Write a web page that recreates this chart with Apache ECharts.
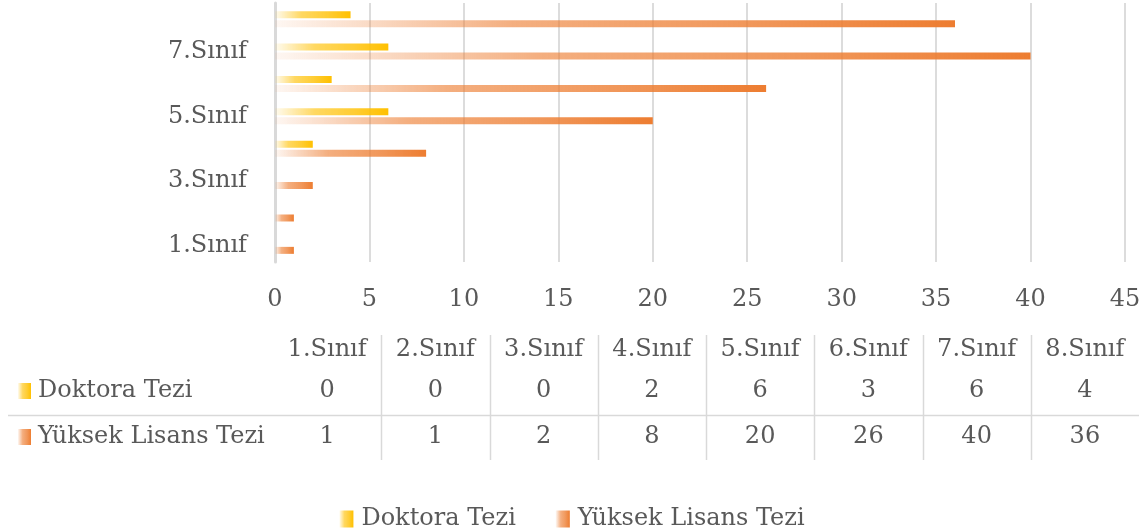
<!DOCTYPE html>
<html>
<head>
<meta charset="utf-8">
<script src="https://cdn.jsdelivr.net/npm/echarts@6/dist/echarts.min.js"></script>
<style>
  html, body { margin: 0; padding: 0; background: #fff; }
  #chart { width: 1144px; height: 532px; }
</style>
</head>
<body>
<div id="chart"></div>
<script>
const categories = ['1.Sınıf', '2.Sınıf', '3.Sınıf', '4.Sınıf', '5.Sınıf', '6.Sınıf', '7.Sınıf', '8.Sınıf']
const doktora = [0, 0, 0, 2, 6, 3, 6, 4]
const yuksekLisans = [1, 1, 2, 8, 20, 26, 40, 36]
const seriesNames = ['Doktora Tezi', 'Yüksek Lisans Tezi']

const FONT = 'DejaVu Serif'
const FS = 24
const TXT = '#595959'
const LINE = '#d9d9d9'

// office-like fade: pale on the left, full colour on the right
function fade (rgb) {
  return new echarts.graphic.LinearGradient(0, 0, 1, 0, [
    { offset: 0, color: `rgba(${rgb},0.06)` },
    { offset: 0.35, color: `rgba(${rgb},0.62)` },
    { offset: 0.7, color: `rgba(${rgb},0.8)` },
    { offset: 1, color: `rgba(${rgb},1)` }
  ])
}
const yellow = '255,192,0'
const orange = '237,125,49'

const chart = echarts.init(document.getElementById('chart'))

// table geometry (data table under the plot)
const tableLeft = 273
const tableRight = 1139
const colW = (tableRight - tableLeft) / categories.length

const graphic = []
for (let i = 1; i < categories.length; i++) {
  const x = Math.round(tableLeft + i * colW) + 0.5
  graphic.push({ type: 'line', shape: { x1: x, y1: 335, x2: x, y2: 460 }, style: { stroke: LINE, lineWidth: 1.5 } })
}
graphic.push({ type: 'line', shape: { x1: 8, y1: 415.5, x2: tableRight, y2: 415.5 }, style: { stroke: LINE, lineWidth: 1.5 } })
const rowY = [391, 437]
const rowFill = [yellow, orange]
seriesNames.forEach((name, i) => {
  graphic.push({ type: 'rect', shape: { x: 18, y: rowY[i] - 8, width: 13, height: 16 }, style: { fill: fade(rowFill[i]) } })
  graphic.push({
    type: 'text', x: 38, y: rowY[i],
    style: { text: name, font: `${FS}px "${FONT}"`, fill: TXT, verticalAlign: 'middle', align: 'left' }
  })
})

const tableAxis = (values, offset) => ({
  gridIndex: 1,
  type: 'category',
  data: categories,
  position: 'bottom',
  offset: offset,
  axisLine: { show: false },
  axisTick: { show: false },
  splitLine: { show: false },
  axisLabel: {
    interval: 0, margin: 3, fontFamily: FONT, fontSize: FS, color: TXT,
    formatter: (v, i) => String(values[i])
  }
})

const options = {
  animation: false,
  textStyle: { fontFamily: FONT },
  grid: [
    { left: 275, right: 19, top: 3, bottom: 270 },
    { left: tableLeft, right: 1144 - tableRight, top: 300, height: 35 }
  ],
  legend: {
    data: seriesNames,
    bottom: -4,
    left: 'center',
    icon: 'rect',
    itemWidth: 14,
    itemHeight: 17,
    itemGap: 40,
    textStyle: { fontFamily: FONT, fontSize: FS, color: TXT, padding: [0, 0, 0, 3] }
  },
  xAxis: [
    {
      type: 'value',
      min: 0,
      max: 45,
      interval: 5,
      axisLine: { show: false },
      axisTick: { show: false },
      splitLine: { lineStyle: { color: '#d0d0d0', width: 1.5 } },
      axisLabel: { margin: 26, fontFamily: FONT, fontSize: FS, color: TXT }
    },
    tableAxis(categories, 0),
    tableAxis(doktora, 41),
    tableAxis(yuksekLisans, 87)
  ],
  yAxis: [
    {
      type: 'category',
      data: categories,
      axisLine: { lineStyle: { color: LINE, width: 3 } },
      axisTick: { show: false },
      axisLabel: { interval: 1, margin: 28, fontFamily: FONT, fontSize: FS, color: TXT }
    },
    { gridIndex: 1, type: 'value', show: false }
  ],
  graphic: graphic,
  series: [
    {
      name: seriesNames[0],
      type: 'bar',
      barWidth: 7,
      barGap: '30%',
      itemStyle: { color: fade(yellow) },
      data: doktora
    },
    {
      name: seriesNames[1],
      type: 'bar',
      barWidth: 7,
      barGap: '30%',
      itemStyle: { color: fade(orange) },
      data: yuksekLisans
    }
  ]
}

chart.setOption(options)
</script>
</body>
</html>
